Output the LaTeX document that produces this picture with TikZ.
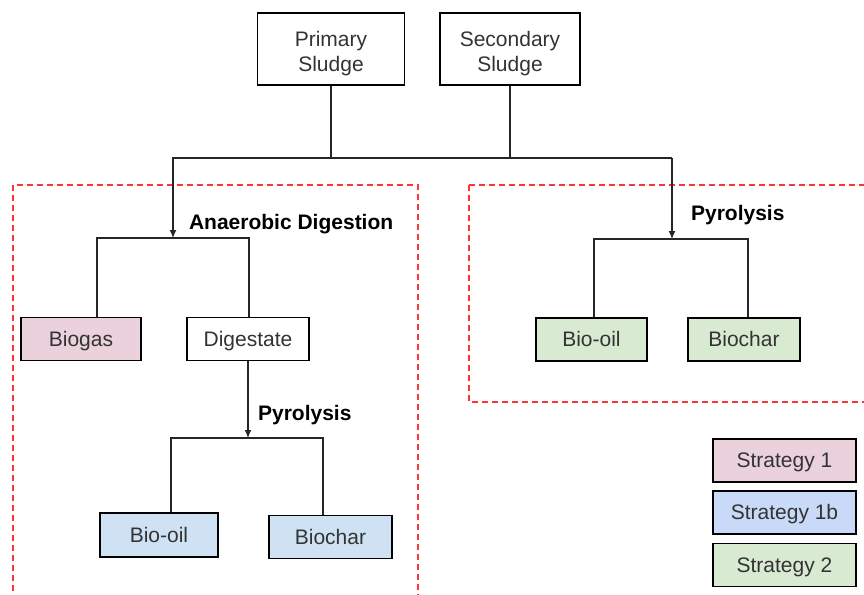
\documentclass[tikz,border=0pt]{standalone}
\usepackage{fontspec}
\setmainfont{Liberation Sans}
\usetikzlibrary{arrows.meta, positioning}
\definecolor{strat1}{HTML}{EAD1DC}
\definecolor{strat1b}{HTML}{CFE2F3}
\definecolor{strat1bk}{HTML}{C9DAF8}
\definecolor{strat2}{HTML}{D9EAD3}
\definecolor{ink}{HTML}{333333}
\definecolor{zone}{HTML}{FF3333}

\begin{document}
\begin{tikzpicture}[x=0.5pt, y=-0.5pt,
  every node/.style={font=\fontsize{10.5}{12.5}\selectfont, text=ink},
  box/.style={draw=black, line width=0.75pt, rectangle, inner sep=0pt, align=center},
  item/.style={box, minimum height=21.5pt, text height=8pt, text depth=0.6pt},
  proc/.style={font=\fontsize{10.5}{12.5}\selectfont\bfseries, text=black, anchor=west},
  link/.style={draw=black!85, line width=0.65pt},
  zonebox/.style={draw=zone, line width=0.75pt, dash pattern=on 3pt off 2pt}
]
  \useasboundingbox (0,0) rectangle (864,595);
  \clip (0,0) rectangle (864,595);
  % feed stocks
  \node[box, minimum width=73.5pt, minimum height=36pt] (primary) at (331,49) {\rule{0pt}{12.5pt}Primary\\Sludge};
  \node[box, minimum width=70pt, minimum height=36pt] (secondary) at (510,49) {\rule{0pt}{12.5pt}Secondary\\Sludge};
  % strategy zones
  \draw[zonebox] (13,185) rectangle (418,620);
  \draw[zonebox] (469,185) rectangle (880,402);
  % products
  \node[item, fill=strat1, minimum width=60pt] (biogas) at (81,339) {Biogas};
  \node[item, fill=white, minimum width=61pt] (digestate) at (248,339) {Digestate};
  \node[item, fill=strat1b, minimum width=59pt, minimum height=22pt] (oilA) at (159,535) {Bio-oil};
  \node[item, fill=strat1b, minimum width=61.5pt] (charA) at (330.5,537) {Biochar};
  \node[item, fill=strat2, minimum width=55.5pt] (oilB) at (591.5,339.5) {Bio-oil};
  \node[item, fill=strat2, minimum width=56pt] (charB) at (744,339.5) {Biochar};
  % legend
  \foreach \n/\c/\t/\y in {leg1/strat1/Strategy 1/460.5, leg1b/strat1bk/Strategy 1b/512.5, leg2/strat2/Strategy 2/565}
    \node[item, fill=\c, minimum width=71.5pt] (\n) at (784.5,\y) {\t};
  % process labels
  \node[proc] (ad) at (182,224) {Anaerobic Digestion};
  \node[proc] (pyA) at (251,415) {Pyrolysis};
  \node[proc] (pyB) at (684,215) {Pyrolysis};
  % connectors
  \coordinate (busL) at (173,158);
  \coordinate (busR) at (672,158);
  \coordinate (adL) at (97,238);
  \coordinate (adR) at (249,238);
  \coordinate (pyAL) at (171,438);
  \coordinate (pyAR) at (323,438);
  \coordinate (pyBL) at (594,239);
  \coordinate (pyBR) at (748,239);
  \draw[link] (primary.south) -- (primary.south |- busL);
  \draw[link] (secondary.south) -- (secondary.south |- busL);
  \draw[link, -{Latex[length=4pt, width=3.5pt]}] (busR) -- (busL) -- (busL |- adL);
  \draw[link, -{Latex[length=4pt, width=3.5pt]}] (busR) -- (busR |- pyBL);
  \draw[link] (biogas.north -| adL) -- (adL) -- (adR) -- (digestate.north -| adR);
  \draw[link, -{Latex[length=4pt, width=3.5pt]}] (digestate.south) -- (digestate.south |- pyAL);
  \draw[link] (oilA.north -| pyAL) -- (pyAL) -- (pyAR) -- (charA.north -| pyAR);
  \draw[link] (oilB.north -| pyBL) -- (pyBL) -- (pyBR) -- (charB.north -| pyBR);
\end{tikzpicture}
\end{document}
